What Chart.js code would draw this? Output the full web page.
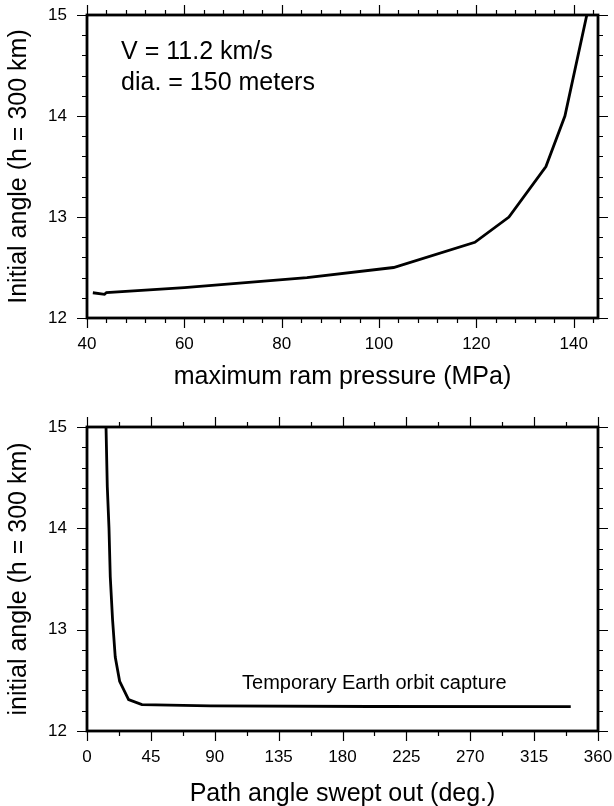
<!DOCTYPE html>
<html>
<head>
<meta charset="utf-8">
<script src="https://cdn.jsdelivr.net/npm/chart.js@4"></script>
<style>
    body { margin: 0; background: #fff; }
    canvas { display: block; }
</style>
</head>
<body>
<canvas id="pressureChart" width="614" height="400"></canvas>
<canvas id="sweptChart" width="614" height="406"></canvas>
<script>
// top panel: max ram pressure vs initial angle
const ramPressure = [41.2, 43.6, 44.0, 60, 85.2, 103, 119.7, 126.7, 134.3, 138.2, 142.7];
const ramAngle = [12.25, 12.235, 12.252, 12.3, 12.4, 12.5, 12.75, 13.0, 13.5, 14.0, 15.0];

// bottom panel: path angle swept out vs initial angle
const sweptPath = [13.4, 14.3, 15.5, 16.4, 18.0, 19.9, 23.0, 29.3, 38.7, 87, 200, 340.8];
const sweptAngle = [15.0, 14.41, 14.0, 13.52, 13.10, 12.73, 12.49, 12.31, 12.26, 12.247, 12.242, 12.24];

// ticks
const angleTicks = [12, 13, 14, 15];
const pressureTicks = [40, 60, 80, 100, 120, 140];
const sweptTicks = [0, 45, 90, 135, 180, 225, 270, 315, 360];

const FONT = "'Liberation Sans', Arial, sans-serif";

// frame + outward major/minor ticks on all four sides
const frameTicks = {
    id: 'frameTicks',
    afterDraw(chart, args, opts) {
        const { ctx, chartArea: a, scales } = chart;
        const xs = scales.x, ys = scales.y;
        const isMajor = (v, step) => Math.abs(v / step - Math.round(v / step)) < 1e-6;
        ctx.save();
        ctx.strokeStyle = '#000';
        ctx.lineWidth = 1.2;
        ctx.beginPath();
        for (let v = xs.min; v <= xs.max + 1e-9; v += opts.xMinor) {
            const px = Math.round(xs.getPixelForValue(v)) + 0.5;
            const len = isMajor(v, opts.xMajor) ? 10 : 5;
            ctx.moveTo(px, a.bottom); ctx.lineTo(px, a.bottom + len);
            ctx.moveTo(px, a.top); ctx.lineTo(px, a.top - len);
        }
        for (let v = ys.min; v <= ys.max + 1e-9; v += opts.yMinor) {
            const py = Math.round(ys.getPixelForValue(v)) + 0.5;
            const len = isMajor(v, opts.yMajor) ? 10 : 5;
            ctx.moveTo(a.left, py); ctx.lineTo(a.left - len, py);
            ctx.moveTo(a.right, py); ctx.lineTo(a.right + len, py);
        }
        ctx.stroke();
        ctx.lineWidth = 2.8;
        ctx.strokeRect(a.left, a.top, a.right - a.left, a.bottom - a.top);

        // text notes
        ctx.fillStyle = '#000';
        ctx.textBaseline = 'middle';
        ctx.textAlign = 'left';
        (opts.notes || []).forEach(n => {
            ctx.font = n.size + 'px ' + FONT;
            ctx.fillText(n.text, xs.getPixelForValue(n.x), ys.getPixelForValue(n.y));
        });
        ctx.restore();
    }
};

// drop the label-overflow padding so the plot area sits where the layout padding says
const noOverflow = s => {
    s.paddingTop = 0; s.paddingBottom = 0; s.paddingLeft = 0; s.paddingRight = 0;
};

function makeChart(id, xVals, yVals, cfg) {
    const points = xVals.map((x, i) => ({ x: x, y: yVals[i] }));
    return new Chart(document.getElementById(id), {
        type: 'line',
        data: {
            datasets: [{
                data: points,
                borderColor: '#000',
                borderWidth: 2.8,
                pointRadius: 0,
                tension: 0,
                fill: false
            }]
        },
        options: {
            responsive: false,
            animation: false,
            layout: { padding: { top: cfg.top, right: 16, left: 0, bottom: 0 } },
            plugins: {
                legend: { display: false },
                tooltip: { enabled: false },
                frameTicks: { xMinor: cfg.xMinor, xMajor: cfg.xMajor, yMinor: 0.2, yMajor: 1, notes: cfg.notes }
            },
            scales: {
                x: {
                    type: 'linear',
                    min: cfg.xMin,
                    max: cfg.xMax,
                    grid: { display: false, drawTicks: false },
                    border: { display: false },
                    afterBuildTicks: s => { s.ticks = cfg.xTicks.map(v => ({ value: v })); },
                    afterFit: s => { s.height = cfg.xHeight; noOverflow(s); },
                    ticks: { color: '#000', padding: 16, maxRotation: 0, font: { family: FONT, size: 17 } },
                    title: {
                        display: true,
                        text: cfg.xTitle,
                        color: '#000',
                        padding: { top: 0, bottom: cfg.xTitlePad },
                        font: { family: FONT, size: 25, lineHeight: 1 }
                    }
                },
                y: {
                    min: 12,
                    max: 15,
                    grid: { display: false, drawTicks: false },
                    border: { display: false },
                    afterBuildTicks: s => { s.ticks = angleTicks.map(v => ({ value: v })); },
                    afterFit: s => { s.width = 87; noOverflow(s); },
                    ticks: { color: '#000', padding: 20, font: { family: FONT, size: 17 } },
                    title: {
                        display: true,
                        text: cfg.yTitle,
                        color: '#000',
                        padding: { top: 7, bottom: 0 },
                        font: { family: FONT, size: 25, lineHeight: 1 }
                    }
                }
            }
        },
        plugins: [frameTicks]
    });
}

makeChart('pressureChart', ramPressure, ramAngle, {
    top: 15, xMin: 40, xMax: 145, xMinor: 4, xMajor: 20, xTicks: pressureTicks,
    xHeight: 82, xTitlePad: 10,
    xTitle: 'maximum ram pressure (MPa)',
    yTitle: 'Initial angle (h = 300 km)',
    notes: [
        { text: 'V = 11.2 km/s', x: 47, y: 14.63, size: 25 },
        { text: 'dia. = 150 meters', x: 47, y: 14.33, size: 25 }
    ]
});

makeChart('sweptChart', sweptPath, sweptAngle, {
    top: 27, xMin: 0, xMax: 360, xMinor: 22.5, xMajor: 45, xTicks: sweptTicks,
    xHeight: 75, xTitlePad: -1,
    xTitle: 'Path angle swept out (deg.)',
    yTitle: 'initial angle (h = 300 km)',
    notes: [
        { text: 'Temporary Earth orbit capture', x: 109.2, y: 12.47, size: 20 }
    ]
});
</script>
</body>
</html>
